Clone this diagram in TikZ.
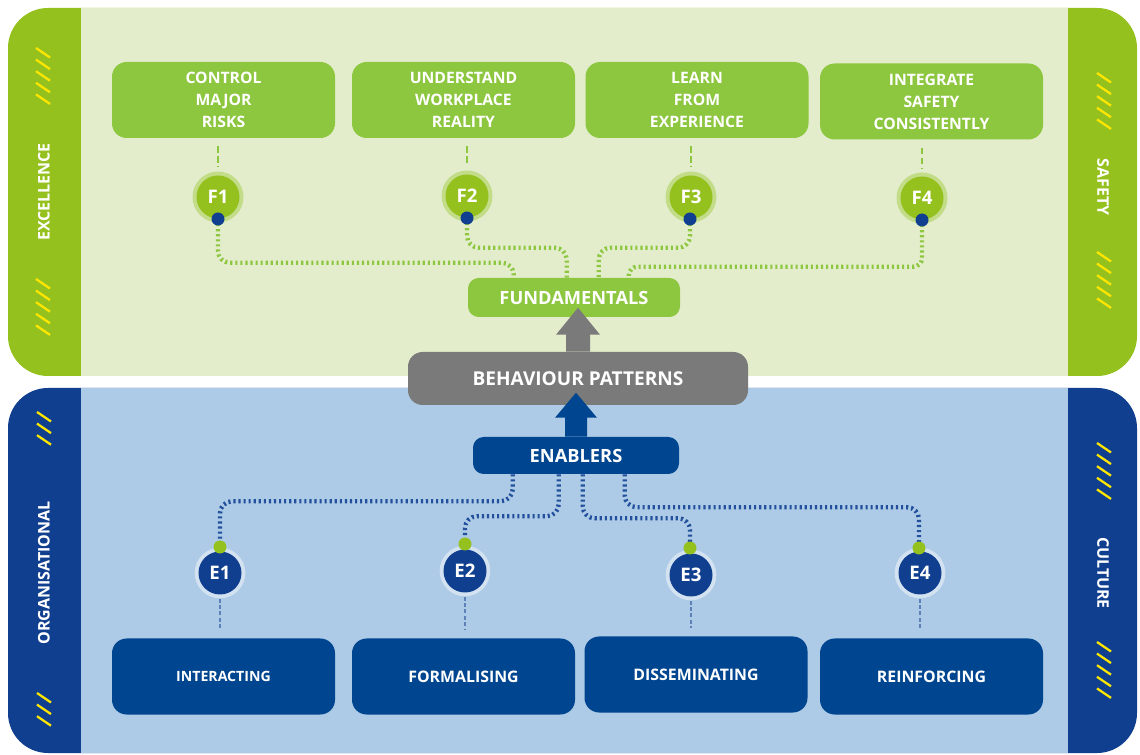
\documentclass[tikz,border=0pt]{standalone}
\usepackage{fontspec}
\setmainfont{Open Sans}
\usetikzlibrary{calc}
\definecolor{barg}{HTML}{95C11F}
\definecolor{lightg}{HTML}{E3EDCC}
\definecolor{boxg}{HTML}{8DC63F}
\definecolor{barb}{HTML}{113F8F}
\definecolor{lightb}{HTML}{ADCBE6}
\definecolor{boxb}{HTML}{00458F}
\definecolor{bpgray}{HTML}{7A7A7A}
\definecolor{hatchy}{HTML}{FFE600}
\definecolor{haloG}{HTML}{C2DC88}
\definecolor{haloB}{HTML}{D3E2F1}
\definecolor{edotc}{HTML}{22509C}
\definecolor{edashc}{HTML}{5E80B8}
\newcommand\hatchmarks[3]{\foreach \i in {1,...,#3}{\draw[hatch] (#1,{#2+(\i-1)*11.6}) -- ++(14,9.5);}}
\tikzset{
  hatch/.style={draw=hatchy, line width=1.7pt},
  sidelbl/.style={text=white, font=\bfseries\fontsize{12}{14}\selectfont, inner sep=0pt},
  gbox/.style={fill=boxg, rounded corners=11pt, minimum width=167.25pt, minimum height=57pt,
    text=white, font=\bfseries\fontsize{11.8}{16.5}\selectfont, align=center, inner sep=0pt},
  bbox/.style={fill=boxb, rounded corners=11pt, minimum width=167.25pt, minimum height=57pt,
    text=white, font=\bfseries\fontsize{11.9}{14}\selectfont, align=center, inner sep=0pt},
  midbox/.style={rounded corners=8pt, text=white, font=\bfseries\fontsize{13.7}{15}\selectfont, inner sep=0pt},
  fhalo/.style={circle, fill=haloG, minimum size=38.25pt, inner sep=0pt},
  fcirc/.style={circle, fill=barg, minimum size=32.25pt, inner sep=0pt, text=white, font=\bfseries\fontsize{14}{15}\selectfont},
  ehalo/.style={circle, fill=haloB, minimum size=38pt, inner sep=0pt},
  ecirc/.style={circle, fill=barb, minimum size=32.25pt, inner sep=0pt, text=white, font=\bfseries\fontsize{14}{15}\selectfont},
  bdot/.style={circle, fill=barb, minimum size=9.75pt, inner sep=0pt},
  gdot/.style={circle, fill=barg, minimum size=9.75pt, inner sep=0pt},
  fpath/.style={draw=boxg, line width=3.3pt, dash pattern=on 1.6pt off 2.2pt, rounded corners=9pt},
  epath/.style={draw=edotc, line width=3.3pt, dash pattern=on 1.6pt off 2.2pt, rounded corners=9pt},
  fdash/.style={draw=boxg, line width=1.5pt, dash pattern=on 5pt off 2.5pt},
  edash/.style={draw=edashc, line width=0.9pt, dash pattern=on 3pt off 1.8pt},
}
\begin{document}
\begin{tikzpicture}[x=0.75pt,y=-0.75pt]
\useasboundingbox (0,0) rectangle (1140,755);
\fill[white] (0,0) rectangle (1140,755);
% panels
\fill[barg, rounded corners=30pt] (8,8) rectangle (1137,376);
\fill[lightg] (81,8) rectangle (1068,376);
\fill[barb, rounded corners=30pt] (8,388) rectangle (1137,753);
\fill[lightb] (81,388) rectangle (1068,753);
% hatches
\hatchmarks{36}{48}{5}
\hatchmarks{36}{279}{5}
\hatchmarks{37}{412}{3}
\hatchmarks{37}{693}{3}
\hatchmarks{1097}{73}{5}
\hatchmarks{1097}{252}{5}
\hatchmarks{1097}{443}{5}
\hatchmarks{1097}{642}{5}
% side labels
\node[sidelbl, rotate=90] (lexc) at (44,192) {EXCELLENCE};
\node[sidelbl, rotate=90] (lorg) at (44,573) {ORGANISATIONAL};
\node[sidelbl, rotate=-90] (lsaf) at (1103,187) {SAFETY};
\node[sidelbl, rotate=-90] (lcul) at (1103,573) {CULTURE};
% top boxes
\node[gbox] (b1) at (223.5,100) {CONTROL\\MAJOR\\RISKS};
\node[gbox] (b2) at (463.5,100) {UNDERSTAND\\WORKPLACE\\REALITY};
\node[gbox] (b3) at (697,100) {LEARN\\FROM\\EXPERIENCE};
\node[gbox] (b4) at (931.5,101.5) {INTEGRATE\\SAFETY\\CONSISTENTLY};
% middle boxes
\node[midbox, fill=boxg, minimum width=159pt, minimum height=29.25pt] (fund) at (574,297.5) {FUNDAMENTALS};
\node[midbox, fill=bpgray, rounded corners=11pt, minimum width=255pt, minimum height=39.75pt, font=\bfseries\fontsize{14.3}{16}\selectfont] (bp) at (578,378.5) {BEHAVIOUR PATTERNS};
\node[midbox, fill=boxb, minimum width=154.5pt, minimum height=27.75pt] (en) at (576,455.5) {ENABLERS};
% bottom boxes
\node[bbox, font=\bfseries\fontsize{10.6}{14}\selectfont] (eb1) at (223.5,676.5) {INTERACTING};
\node[bbox] (eb2) at (463.5,676.5) {FORMALISING};
\node[bbox] (eb3) at (696,674.5) {DISSEMINATING};
\node[bbox] (eb4) at (931.5,676.5) {REINFORCING};
% F circle halos
\node[fhalo] (f1h) at (218,197) {};
\node[fhalo] (f2h) at (467,196) {};
\node[fhalo] (f3h) at (691,197) {};
\node[fhalo] (f4h) at (922,198) {};
% E circle halos
\node[ehalo] (e1h) at (220,573) {};
\node[ehalo] (e2h) at (465,571) {};
\node[ehalo] (e3h) at (691,575) {};
\node[ehalo] (e4h) at (920,573) {};
% dot anchors
\coordinate (f1d) at (218,219);
\coordinate (f2d) at (467,218);
\coordinate (f3d) at (690,219);
\coordinate (f4d) at (922,220);
\coordinate (e1d) at (220,547);
\coordinate (e2d) at (465,544);
\coordinate (e3d) at (690,548);
\coordinate (e4d) at (919,548);
% dashed ties
\draw[fdash, shorten <=6pt, shorten >=3pt] (f1h |- b1.south) -- (f1h.north);
\draw[fdash, shorten <=6pt, shorten >=3pt] (f2h |- b2.south) -- (f2h.north);
\draw[fdash, shorten <=6pt, shorten >=3pt] (f3h |- b3.south) -- (f3h.north);
\draw[fdash, shorten <=6pt, shorten >=3pt] (f4h |- b4.south) -- (f4h.north);
\draw[edash, shorten >=6pt] (e1h.south) -- (e1h |- eb1.north);
\draw[edash, shorten >=6pt] (e2h.south) -- (e2h |- eb2.north);
\draw[edash, shorten >=6pt] (e3h.south) -- (e3h |- eb3.north);
\draw[edash, shorten >=6pt] (e4h.south) -- (e4h |- eb4.north);
% dotted connectors F
\draw[fpath] (f1d) |- ($(fund.north west)+(46,-15)$) -- ($(fund.north west)+(46,0)$);
\draw[fpath] (f2d) |- ($(fund.north west)+(99,-30)$) -- ($(fund.north west)+(99,0)$);
\draw[fpath] (f3d) |- ($(fund.north west)+(131,-30)$) -- ($(fund.north west)+(131,0)$);
\draw[fpath, rounded corners=6.5pt] (f4d) |- ($(fund.north west)+(161,-11)$) -- ($(fund.north west)+(161,0)$);
% dotted connectors E
\draw[epath] ($(en.south west)+(40,0)$) -- ($(en.south west)+(40,27)$) -| (e1d);
\draw[epath] ($(en.south west)+(86,0)$) -- ($(en.south west)+(86,42)$) -| (e2d);
\draw[epath] ($(en.south west)+(110,0)$) -- ($(en.south west)+(110,44)$) -| (e3d);
\draw[epath] ($(en.south west)+(152,0)$) -- ($(en.south west)+(152,33)$) -| (e4d);
% circles
\node[fcirc] (f1) at (f1h) {F1};
\node[fcirc] (f2) at (f2h) {F2};
\node[fcirc] (f3) at (f3h) {F3};
\node[fcirc] (f4) at (f4h) {F4};
\node[ecirc] (e1) at (e1h) {E1};
\node[ecirc] (e2) at (e2h) {E2};
\node[ecirc] (e3) at (e3h) {E3};
\node[ecirc] (e4) at (e4h) {E4};
% dots
\node[bdot] (f1dot) at (f1d) {};
\node[bdot] (f2dot) at (f2d) {};
\node[bdot] (f3dot) at (f3d) {};
\node[bdot] (f4dot) at (f4d) {};
\node[gdot] (e1dot) at (e1d) {};
\node[gdot] (e2dot) at (e2d) {};
\node[gdot] (e3dot) at (e3d) {};
\node[gdot] (e4dot) at (e4d) {};
% arrows
\fill[bpgray] ($(bp.north)+(-12,0)$) -- ++(0,-17) -- ++(-10,0) -- ($(bp.north)+(0,-44)$)
  -- ($(bp.north)+(22,-17)$) -- ++(-10,0) -- ($(bp.north)+(12,0)$) -- cycle;
\fill[boxb] ($(en.north)+(-11,0)$) -- ++(0,-19) -- ++(-10,0) -- ($(en.north)+(0,-44)$)
  -- ($(en.north)+(21,-19)$) -- ++(-10,0) -- ($(en.north)+(11,0)$) -- cycle;
\end{tikzpicture}
\end{document}
